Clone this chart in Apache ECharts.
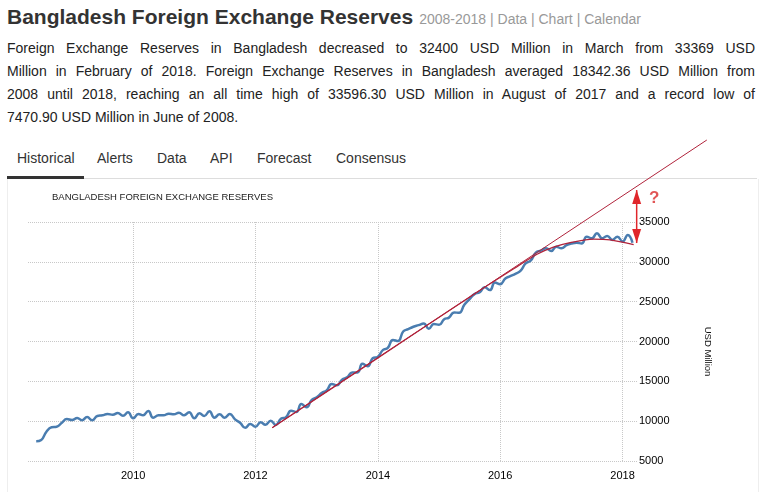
<!DOCTYPE html>
<html>
<head>
<meta charset="utf-8">
<script src="https://cdn.jsdelivr.net/npm/echarts@6/dist/echarts.min.js"></script>
<style>
html,body{margin:0;padding:0;background:#fff;}
body{width:763px;height:492px;overflow:hidden;position:relative;font-family:'Liberation Sans',Arial,sans-serif;}
#hdr{position:absolute;left:7px;top:4px;white-space:nowrap;line-height:26px;}
#hdr .t{font-size:21px;font-weight:bold;color:#333;}
#hdr .s{font-size:14px;color:#999;margin-left:6px;}
#para{position:absolute;left:7px;top:37px;width:748px;font-size:14px;line-height:23px;color:#222;}
#para div{text-align:justify;text-align-last:justify;}
#para div.last{text-align-last:left;}
.tab{position:absolute;top:150px;font-size:14px;line-height:16px;color:#333;}
#tabline{position:absolute;left:7px;top:178px;width:750px;height:1px;background:#ddd;}
#ul{position:absolute;left:7px;top:176px;width:77px;height:3px;background:#333;}
#panel{position:absolute;left:7px;top:179px;width:750px;height:313px;border-left:1px solid #eee;border-right:1px solid #eee;}
#chart{position:absolute;left:0;top:0;width:763px;height:492px;z-index:5;}
</style>
</head>
<body>
<div id="hdr"><span class="t">Bangladesh Foreign Exchange Reserves</span><span class="s">2008-2018 | Data | Chart | Calendar</span></div>
<div id="para">
<div>Foreign Exchange Reserves in Bangladesh decreased to 32400 USD Million in March from 33369 USD</div>
<div>Million in February of 2018. Foreign Exchange Reserves in Bangladesh averaged 18342.36 USD Million from</div>
<div>2008 until 2018, reaching an all time high of 33596.30 USD Million in August of 2017 and a record low of</div>
<div class="last">7470.90 USD Million in June of 2008.</div>
</div>
<div class="tab" style="left:17px">Historical</div>
<div class="tab" style="left:97px">Alerts</div>
<div class="tab" style="left:157px">Data</div>
<div class="tab" style="left:210px">API</div>
<div class="tab" style="left:257px">Forecast</div>
<div class="tab" style="left:336px">Consensus</div>
<div id="tabline"></div>
<div id="ul"></div>
<div id="panel"></div>
<div id="chart"></div>
<script>
// ---- data ----
const months = [
  '2008-06','2008-07','2008-08','2008-09','2008-10','2008-11','2008-12',
  '2009-01','2009-02','2009-03','2009-04','2009-05','2009-06','2009-07','2009-08','2009-09','2009-10','2009-11','2009-12',
  '2010-01','2010-02','2010-03','2010-04','2010-05','2010-06','2010-07','2010-08','2010-09','2010-10','2010-11','2010-12',
  '2011-01','2011-02','2011-03','2011-04','2011-05','2011-06','2011-07','2011-08','2011-09','2011-10','2011-11','2011-12',
  '2012-01','2012-02','2012-03','2012-04','2012-05','2012-06','2012-07','2012-08','2012-09','2012-10','2012-11','2012-12',
  '2013-01','2013-02','2013-03','2013-04','2013-05','2013-06','2013-07','2013-08','2013-09','2013-10','2013-11','2013-12',
  '2014-01','2014-02','2014-03','2014-04','2014-05','2014-06','2014-07','2014-08','2014-09','2014-10','2014-11','2014-12',
  '2015-01','2015-02','2015-03','2015-04','2015-05','2015-06','2015-07','2015-08','2015-09','2015-10','2015-11','2015-12',
  '2016-01','2016-02','2016-03','2016-04','2016-05','2016-06','2016-07','2016-08','2016-09','2016-10','2016-11','2016-12',
  '2017-01','2017-02','2017-03','2017-04','2017-05','2017-06','2017-07','2017-08','2017-09','2017-10','2017-11','2017-12',
  '2018-01','2018-02','2018-03'
];
const reserves = [
  7471, 7640, 8680, 9230, 9300, 9800, 10270,
  10150, 10400, 10110, 10520, 10110, 10650, 10730, 10900, 10810, 11020, 10690, 11110,
  10360, 10900, 10730, 11280, 10430, 10740, 10740, 10940, 10860, 11060, 10740, 11110,
  10360, 10990, 10650, 11240, 10430, 10860, 10430, 10900, 10230, 9810, 9180, 9640,
  9300, 9860, 9560, 10060, 9520, 10300, 10500, 11300, 11150, 12150, 11750, 12650,
  13000, 13550, 13850, 14650, 14500, 15200, 15500, 16100, 16100, 17200, 16900, 17900,
  18100, 18950, 19200, 20200, 20050, 21250, 21550, 21850, 22050, 22250, 21600, 22200,
  22100, 22800, 23000, 23650, 23600, 24600, 25300, 25950, 26200, 26800, 26450, 27400,
  27200, 27900, 28200, 28500, 28850, 29800, 30150, 31150, 31400, 31700, 31350, 31900,
  31700, 32100, 32300, 32400, 32300, 33150, 32950, 33596, 32950, 33250, 32750, 33150,
  32550, 33369, 32400
];
// straight trend line (annotation)
const trendLineDates = ['2012-04-10', '2019-05-19'];
const trendLineValues = [9180, 45291];
// curved trend (annotation)
const trendCurveDates = ['2012-04-10','2014-01-01','2015-07-01','2016-04-15','2016-08-08','2016-11-14','2017-02-22','2017-07-11','2017-10-18','2018-03-08'];
const trendCurveValues = [9180, 17940, 25560, 29450, 30950, 31850, 32420, 32860, 32760, 32150];
// arrow and question mark annotation
const arrowDates = ['2018-03-26', '2018-03-26'];
const arrowValues = [39010, 32360];
const questionDate = '2018-07-08';
const questionValue = 38000;
const questionText = '?';
// axes
const xMin = '2008-04-13';
const xMax = '2018-03-28';
const xMaxOverlay = '2019-05-26'; // same scale, extended to the right for the trend line overlay
const xTickYears = 2; // a tick every 2 years: 2010, 2012, 2014, 2016, 2018
const yMin = 5000, yMax = 35000, yStep = 5000;
const chartTitle = 'BANGLADESH FOREIGN EXCHANGE RESERVES';
const yName = 'USD Million';

// ---- chart ----
const chart = echarts.init(document.getElementById('chart'), null, {renderer: 'canvas'});
const twoYears = xTickYears * 365 * 24 * 3600 * 1000;
const trendColor = '#b0233b';
const arrowColor = '#e0262b';
const dotted = {type: 'dotted', color: '#c8c8c8', width: 1};
chart.setOption({
  animation: false,
  backgroundColor: 'transparent',
  title: {
    text: chartTitle, left: 47, top: 187,
    textStyle: {fontSize: 9.5, fontWeight: 'normal', color: '#222', fontFamily: 'Liberation Sans'}
  },
  grid: [
    {left: 28, right: 126, top: 222, bottom: 31, containLabel: false, outerBoundsMode: 'none'},
    {left: 28, right: 55, top: 222, bottom: 31, containLabel: false, outerBoundsMode: 'none'}
  ],
  xAxis: [{
    type: 'time', min: xMin, max: xMax, minInterval: twoYears, maxInterval: twoYears, splitNumber: 5,
    axisLine: {show: false},
    axisTick: {show: false},
    axisLabel: {formatter: v => String(new Date(v).getFullYear()), margin: 9,
      color: '#000', fontSize: 11, fontFamily: 'Liberation Sans', showMinLabel: false, showMaxLabel: false},
    splitLine: {show: true, showMinLine: false, showMaxLine: false, lineStyle: dotted}
  }, {
    type: 'time', gridIndex: 1, min: xMin, max: xMaxOverlay, show: false
  }],
  yAxis: [{
    type: 'value', position: 'right', min: yMin, max: yMax, interval: yStep,
    axisLine: {show: false}, axisTick: {show: false},
    axisLabel: {margin: 2, color: '#000', fontSize: 11, fontFamily: 'Liberation Sans', formatter: v => String(v)},
    splitLine: {show: true, lineStyle: dotted},
    name: yName, nameLocation: 'middle', nameRotate: -90, nameGap: 66,
    nameTextStyle: {fontSize: 9.5, color: '#111', fontFamily: 'Liberation Sans', padding: [0, 0, 0, 20]}
  }, {
    type: 'value', gridIndex: 1, min: yMin, max: yMax, show: false
  }],
  series: [
    {
      type: 'line', data: months.map((m, i) => [m, reserves[i]]),
      smooth: 0.5, showSymbol: false, silent: true,
      lineStyle: {color: '#4a7db0', width: 2.5}, z: 2
    },
    {
      type: 'line', xAxisIndex: 1, yAxisIndex: 1,
      data: trendLineDates.map((d, i) => [d, trendLineValues[i]]),
      showSymbol: false, silent: true, clip: false,
      lineStyle: {color: trendColor, width: 1}, z: 3
    },
    {
      type: 'line', data: trendCurveDates.map((d, i) => [d, trendCurveValues[i]]),
      smooth: 0.3, showSymbol: false, silent: true, clip: false,
      lineStyle: {color: trendColor, width: 1.3}, z: 3
    },
    {
      type: 'line', silent: true, clip: false, showSymbol: true, showAllSymbol: true,
      data: [
        {value: [arrowDates[0], arrowValues[0]], symbol: 'triangle', symbolSize: [9, 14], symbolOffset: [0, 7]},
        {value: [arrowDates[1], arrowValues[1]], symbol: 'triangle', symbolSize: [9, 14], symbolRotate: 180, symbolOffset: [0, -7]}
      ],
      lineStyle: {color: arrowColor, width: 1.5}, itemStyle: {color: arrowColor}, z: 4
    },
    {
      type: 'scatter', silent: true, clip: false,
      data: [[questionDate, questionValue]], symbolSize: 0,
      label: {show: true, position: 'inside', formatter: questionText, fontSize: 17, fontWeight: 'bold',
        color: '#d92b2b', fontFamily: 'Liberation Sans'},
      z: 4
    }
  ]
});
</script>
</body>
</html>
